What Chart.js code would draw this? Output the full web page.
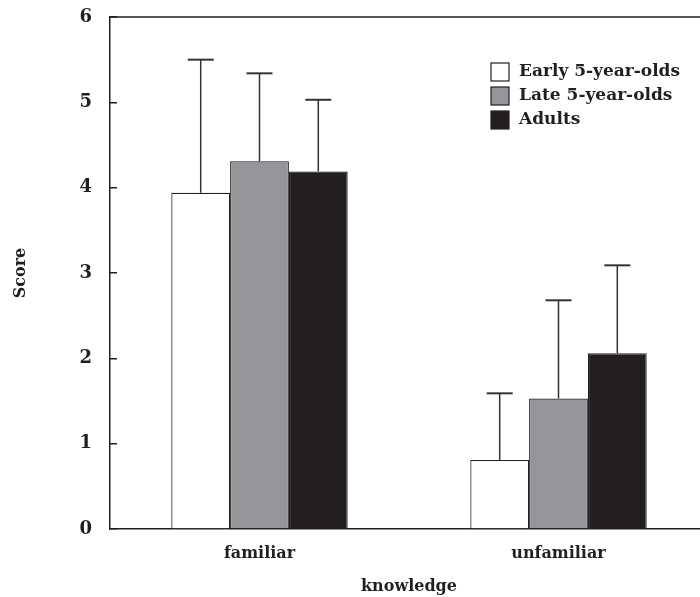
<!DOCTYPE html>
<html>
<head>
<meta charset="utf-8">
<script src="https://cdn.jsdelivr.net/npm/chart.js@4/dist/chart.umd.min.js"></script>
<style>
  html, body { margin: 0; padding: 0; background: #fff; overflow: hidden; }
  #wrap { position: relative; width: 720px; height: 597px; }
</style>
</head>
<body>
<div id="wrap"><canvas id="c"></canvas></div>
<script>
// ---- data ----
const categories = ['familiar', 'unfamiliar'];
const seriesNames = ['Early 5-year-olds', 'Late 5-year-olds', 'Adults'];
const earlyValues = [3.94, 0.81];
const lateValues = [4.31, 1.53];
const adultValues = [4.19, 2.06];
const earlyErr = [1.56, 0.78];
const lateErr = [1.03, 1.15];
const adultErr = [0.84, 1.03];
const yTickMin = 0, yTickMax = 6, yTickStep = 1;
const xTitle = 'knowledge';
const yTitle = 'Score';

const INK = '#231f20';
const FONT = "'DejaVu Serif', serif";
const errors = [earlyErr, lateErr, adultErr];
const fills = ['#ffffff', '#939598', '#231f20'];

const errorBarPlugin = {
  id: 'errorBars',
  afterDatasetsDraw(chart) {
    const ctx = chart.ctx;
    const ys = chart.scales.y;
    ctx.save();
    ctx.strokeStyle = '#333';
    chart.data.datasets.forEach((ds, i) => {
      const meta = chart.getDatasetMeta(i);
      meta.data.forEach((el, j) => {
        const top = ys.getPixelForValue(ds.data[j] + errors[i][j]);
        ctx.lineWidth = 1.5;
        ctx.beginPath();
        ctx.moveTo(el.x, el.y);
        ctx.lineTo(el.x, top);
        ctx.stroke();
        ctx.lineWidth = 2;
        ctx.beginPath();
        ctx.moveTo(el.x - 13, top);
        ctx.lineTo(el.x + 13, top);
        ctx.stroke();
      });
    });
    ctx.restore();
  }
};

const framePlugin = {
  id: 'frame',
  afterDraw(chart) {
    const ctx = chart.ctx, a = chart.chartArea;
    ctx.save();
    ctx.strokeStyle = INK;
    ctx.lineWidth = 1.5;
    ctx.beginPath();
    ctx.moveTo(a.left, a.top);
    ctx.lineTo(a.right, a.top);
    ctx.stroke();
    ctx.restore();
  }
};

const legendPlugin = {
  id: 'boxLegend',
  afterDraw(chart) {
    const ctx = chart.ctx;
    ctx.save();
    ctx.font = "bold 17px " + FONT;
    ctx.textBaseline = 'middle';
    ctx.textAlign = 'left';
    chart.data.datasets.forEach((ds, i) => {
      const y = 63 + i * 24;
      ctx.fillStyle = ds.backgroundColor;
      ctx.fillRect(491, y, 18, 18);
      ctx.strokeStyle = INK;
      ctx.lineWidth = 1.2;
      ctx.strokeRect(491, y, 18, 18);
      ctx.fillStyle = INK;
      ctx.fillText(ds.label, 519, y + 9);
    });
    ctx.restore();
  }
};

const allValues = [earlyValues, lateValues, adultValues];
new Chart(document.getElementById('c'), {
  type: 'bar',
  data: {
    labels: categories,
    datasets: seriesNames.map((name, i) => ({
      label: name,
      data: allValues[i],
      backgroundColor: fills[i],
      borderColor: INK,
      borderWidth: 1.2,
      categoryPercentage: 0.59,
      barPercentage: 1.0
    }))
  },
  options: {
    responsive: true,
    maintainAspectRatio: false,
    animation: false,
    layout: { padding: { top: 17, right: 12, left: 0, bottom: 0 } },
    plugins: { legend: { display: false }, tooltip: { enabled: false } },
    scales: {
      x: {
        grid: { display: false, drawTicks: false },
        border: { display: true, color: INK, width: 1.5 },
        ticks: { color: INK, font: { family: FONT, size: 16, weight: 'bold' }, padding: 15 },
        title: { display: true, text: xTitle, color: INK, font: { family: FONT, size: 16, weight: 'bold' }, padding: { top: 0, bottom: 1 } },
        afterFit(s) { s.height = 68; s.paddingLeft = 0; s.paddingRight = 0; }
      },
      y: {
        min: yTickMin, max: yTickMax,
        grid: { display: true, drawOnChartArea: false, drawTicks: true, tickLength: -7, color: INK, lineWidth: 1.5 },
        border: { display: true, color: INK, width: 1.5 },
        ticks: { stepSize: yTickStep, color: INK, font: { family: FONT, size: 18, weight: 'bold' }, padding: 25 },
        title: { display: true, text: yTitle, color: INK, font: { family: FONT, size: 16, weight: 'bold' }, padding: { top: 11, bottom: 0 } },
        afterFit(s) { s.width = 110; s.paddingTop = 0; s.paddingBottom = 0; }
      }
    }
  },
  plugins: [errorBarPlugin, framePlugin, legendPlugin]
});
</script>
</body>
</html>
